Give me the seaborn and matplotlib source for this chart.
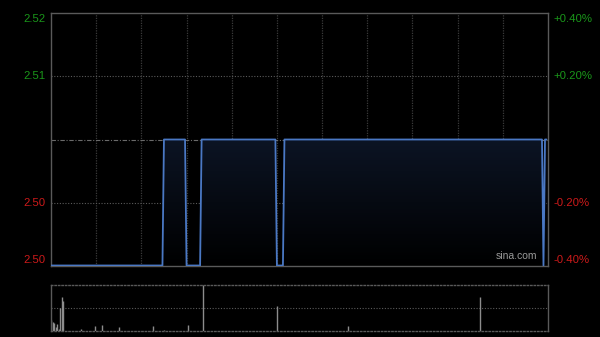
import numpy as np
import pandas as pd
import matplotlib
matplotlib.use("Agg")
import matplotlib.pyplot as plt
import seaborn as sns
from matplotlib.colors import LinearSegmentedColormap

# ---- data ----
prev_close = 2.51
segment_start_minutes = [0, 75, 90, 100, 150, 155, 327, 328]
segment_prices = [2.50, 2.51, 2.50, 2.51, 2.50, 2.51, 2.50, 2.51]
last_minute = 329

volume_minutes = [0, 1, 2, 3, 4, 5, 6, 7, 8, 20, 29, 34, 45, 68, 75, 91, 101, 150, 197, 285]
volume_values = [30000, 24000, 21600, 10800, 19200, 4800, 61200, 88800, 78000, 6000,
                 12000, 15600, 10800, 12000, 3600, 16800, 120000, 64800, 12000, 90000]

left_tick_labels = ["2.52", "2.51", "2.50", "2.50"]
right_tick_labels = ["+0.40%", "+0.20%", "-0.20%", "-0.40%"]
pct_levels = [0.004, 0.002, -0.002, -0.004]
total_minutes = 330

# build the minute series from the read segments
seg_ends = segment_start_minutes[1:] + [last_minute + 1]
lengths = [e - s for s, e in zip(segment_start_minutes, seg_ends)]
price = np.repeat(segment_prices, lengths)
minutes = np.arange(len(price))
df = pd.DataFrame({"minute": minutes, "price": price})
vdf = pd.DataFrame({"minute": volume_minutes, "volume": volume_values})

sns.set_style("dark")
plt.rcParams['font.family'] = ['Liberation Sans', 'DejaVu Sans']

fig = plt.figure(figsize=(6.0, 3.37), dpi=100, facecolor="black")
ax = fig.add_axes([51/600, 1-266/337, 497/600, 253/337])
axv = fig.add_axes([51/600, 1-331/337, 497/600, 46/337])

ymin = prev_close * (1 - 0.004)
ymax = prev_close * (1 + 0.004)

for a in (ax, axv):
    a.set_facecolor("black")
    a.set_xlim(0, total_minutes)
    a.set_xticks([])
    a.set_yticks([])
    a.set_xlabel("")
    a.set_ylabel("")
    a.grid(False)

ax.set_ylim(ymin, ymax)

# grid lines
for m in range(30, total_minutes, 30):
    ax.axvline(m, color="#3a3a3a", lw=0.9, ls=(0, (1, 1)), zorder=1)
for p in pct_levels[1:3]:
    ax.axhline(prev_close * (1 + p), color="#5a5a5a", lw=0.8, ls=(0, (1, 1.5)), zorder=1)
ax.axhline(prev_close, color="#6a6a6a", lw=0.8, ls=(0, (4, 1.5, 1, 1.5)), zorder=1)

# gradient fill under the price line
poly = ax.fill_between(df["minute"], df["price"], ymin, facecolor="none", edgecolor="none")
grad = np.linspace(1, 0, 256).reshape(-1, 1)
cmap = LinearSegmentedColormap.from_list("g", ["#000000", "#0c1424"])
im = ax.imshow(grad, cmap=cmap, aspect="auto", extent=[0, total_minutes, ymin, prev_close],
               origin="upper", zorder=2, vmin=0, vmax=1)
im.set_clip_path(poly.get_paths()[0], transform=ax.transData)
ax.set_ylim(ymin, ymax)
ax.set_xlim(0, total_minutes)

sns.lineplot(data=df, x="minute", y="price", ax=ax, color="#4a78c4", lw=1.3, zorder=3)
ax.set_xlabel("")
ax.set_ylabel("")

for s in ax.spines.values():
    s.set_visible(True)
    s.set_color("#5a5a5a")
    s.set_linewidth(1.0)

# tick labels
label_offsets = [-6, 0, 0, 6]
for lab, rlab, p, off in zip(left_tick_labels, right_tick_labels, pct_levels, label_offsets):
    yv = prev_close * (1 + p)
    col = "#1a961a" if p > 0 else "#cc1a1a"
    ax.annotate(lab, xy=(0, yv), xycoords=("axes fraction", "data"),
                xytext=(-4, off * 0.75), textcoords="offset points",
                ha="right", va="center", color=col, fontsize=8.2)
    ax.annotate(rlab, xy=(1, yv), xycoords=("axes fraction", "data"),
                xytext=(4, off * 0.75), textcoords="offset points",
                ha="left", va="center", color=col, fontsize=8.2)

ax.text(0.979, 0.018, "sina.com", transform=ax.transAxes, ha="right", va="bottom",
        color="#9a9a9a", fontsize=7.5, zorder=4)

# volume panel
axv.set_ylim(0, max(volume_values))
axv.axhline(max(volume_values) / 2, color="#5a5a5a", lw=0.8, ls=(0, (1, 1.5)), zorder=1)
axv.vlines(vdf["minute"], 0, vdf["volume"], colors="#8c8c8c", linewidth=1.0, zorder=2)
for side, s in axv.spines.items():
    s.set_visible(True)
    s.set_color("#5a5a5a")
    s.set_linewidth(1.0)
axv.spines["top"].set_linestyle((0, (1, 1.5)))
axv.spines["bottom"].set_linestyle((0, (1, 1.5)))

fig.savefig("out.png", dpi=100, facecolor="black")
